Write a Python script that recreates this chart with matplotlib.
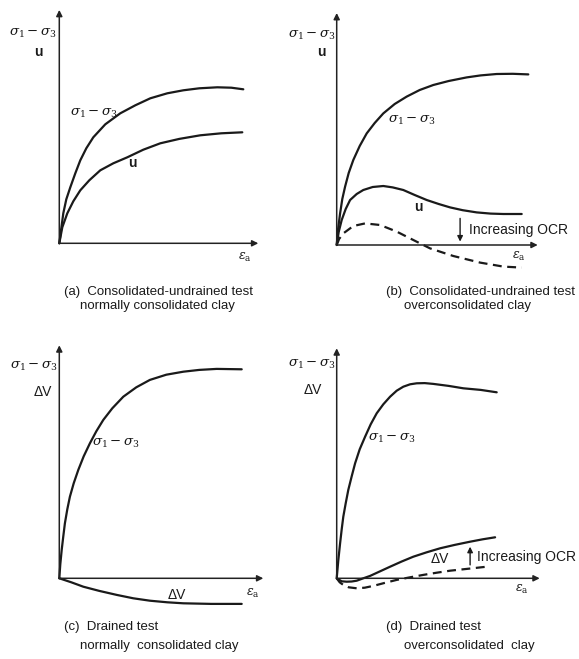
import matplotlib.pyplot as plt

plt.rcParams['font.family'] = ['Liberation Sans', 'DejaVu Sans']
plt.rcParams['mathtext.fontset'] = 'dejavuserif'

W, H = 579, 659

# (a) consolidated-undrained, normally consolidated
a_x_sig = [0, 0.08, 0.2, 0.35, 0.55, 0.8, 1.05, 1.35, 1.7, 2.3, 3.05, 3.8,
           4.55, 5.4, 6.2, 7.0, 7.9, 8.6, 9.2]
a_y_sig = [0, 0.6, 1.5, 2.2, 2.8, 3.5, 4.15, 4.75, 5.3, 5.95, 6.5, 6.9,
           7.25, 7.5, 7.65, 7.75, 7.8, 7.78, 7.7]
a_x_u = [0, 0.15, 0.4, 0.7, 1.05, 1.5, 2.05, 2.7, 3.4, 4.2, 5.05, 6.0,
         7.05, 8.1, 9.15]
a_y_u = [0, 0.8, 1.5, 2.1, 2.65, 3.15, 3.65, 4.0, 4.3, 4.68, 5.0, 5.22,
         5.4, 5.5, 5.55]

# (b) consolidated-undrained, overconsolidated
b_x_sig = [0, 0.07, 0.17, 0.28, 0.42, 0.6, 0.83, 1.15, 1.5, 1.9, 2.33, 2.9,
           3.5, 4.15, 4.83, 5.6, 6.5, 7.2, 8.0, 8.8, 9.58]
b_y_sig = [0, 0.8, 1.58, 2.3, 2.92, 3.6, 4.25, 4.95, 5.58, 6.1, 6.58, 7.05,
           7.42, 7.75, 8.0, 8.2, 8.38, 8.48, 8.55, 8.56, 8.53]
b_x_u = [0, 0.1, 0.25, 0.45, 0.67, 1.0, 1.33, 1.8, 2.33, 2.8, 3.33, 3.9,
         4.5, 5.1, 5.67, 6.3, 7.0, 7.7, 8.33, 9.25]
b_y_u = [0, 0.65, 1.25, 1.8, 2.25, 2.55, 2.75, 2.9, 2.95, 2.88, 2.75, 2.5,
         2.25, 2.05, 1.88, 1.74, 1.63, 1.57, 1.55, 1.55]
b_x_ocr = [0, 0.12, 0.33, 0.83, 1.42, 2.17, 3.0, 3.83, 4.67, 5.83, 7.17,
           8.33, 9.25]
b_y_ocr = [0, 0.3, 0.58, 0.95, 1.08, 1.0, 0.67, 0.25, -0.17, -0.55, -0.88,
           -1.08, -1.13]

# (c) drained, normally consolidated
c_x_sig = [0, 0.05, 0.12, 0.2, 0.28, 0.4, 0.53, 0.72, 0.95, 1.22, 1.53,
           1.85, 2.2, 2.65, 3.2, 3.85, 4.53, 5.35, 6.2, 7.0, 7.87, 9.12]
c_y_sig = [0, 0.7, 1.42, 2.1, 2.75, 3.45, 4.08, 4.75, 5.42, 6.1, 6.75,
           7.35, 7.92, 8.5, 9.08, 9.55, 9.92, 10.18, 10.33, 10.42, 10.47,
           10.45]
c_x_dv = [0, 0.6, 1.2, 2.0, 2.87, 3.7, 4.53, 5.4, 6.2, 7.6, 9.12]
c_y_dv = [0, -0.2, -0.42, -0.63, -0.83, -1.0, -1.12, -1.2, -1.25, -1.28,
          -1.28]

# (d) drained, overconsolidated
d_x_sig = [0, 0.08, 0.17, 0.25, 0.33, 0.45, 0.58, 0.75, 0.92, 1.15, 1.42,
           1.7, 2.0, 2.33, 2.67, 3.0, 3.33, 3.67, 4.0, 4.4, 4.83, 5.6, 6.33,
           7.2, 8.0]
d_y_sig = [0, 0.9, 1.75, 2.45, 3.08, 3.75, 4.42, 5.1, 5.75, 6.45, 7.08,
           7.7, 8.25, 8.7, 9.08, 9.38, 9.58, 9.7, 9.75, 9.76, 9.72, 9.62,
           9.5, 9.42, 9.3]
d_x_dv = [0, 0.25, 0.5, 0.75, 1.0, 1.33, 1.67, 2.17, 2.67, 3.25, 3.83, 4.5,
          5.17, 5.9, 6.67, 7.3, 7.92]
d_y_dv = [0, -0.15, -0.17, -0.16, -0.12, 0.0, 0.12, 0.35, 0.58, 0.84, 1.08,
          1.3, 1.5, 1.67, 1.83, 1.95, 2.05]
d_x_ocr = [0, 0.15, 0.33, 0.6, 1.0, 1.4, 1.83, 2.4, 3.0, 3.67, 4.33, 5.0,
           5.67, 6.6, 7.5]
d_y_ocr = [0, -0.2, -0.33, -0.45, -0.5, -0.47, -0.38, -0.23, -0.08, 0.05,
           0.17, 0.28, 0.38, 0.48, 0.58]

SIG = r'$\sigma_1 - \sigma_3$'
EPS = r'$\varepsilon_{\rm a}$'
INK = '#1a1a1a'

fig = plt.figure(figsize=(W / 100, H / 100), dpi=100)


def make_axes(ox, oy, xmax, ymax):
    # 1 data unit = 20 px, origin of the sketch at pixel (ox, oy)
    ax = fig.add_axes([(ox - 10) / W, (H - (oy + 40)) / H, 220 / W, 280 / H])
    ax.set_xlim(-0.5, 10.5)
    ax.set_ylim(-2, 12)
    ax.axis('off')
    arrow = dict(arrowstyle='-|>', color='#222222', lw=1.1,
                 mutation_scale=9, shrinkA=0, shrinkB=0)
    ax.annotate('', xy=(xmax, 0), xytext=(0, 0), arrowprops=arrow)
    ax.annotate('', xy=(0, ymax), xytext=(0, 0), arrowprops=arrow)
    return ax


def curve(ax, x, y, dashed=False):
    ax.plot(x, y, color=INK, lw=1.6, ls=(0, (4, 2.5)) if dashed else '-',
            solid_capstyle='round', solid_joinstyle='round', clip_on=False)


def ocr_arrow(ax, x, y0, y1):
    ax.annotate('', xy=(x, y1), xytext=(x, y0),
                arrowprops=dict(arrowstyle='-|>', color=INK, lw=1.0,
                                mutation_scale=8, shrinkA=0, shrinkB=0))


def caption(x, y, s):
    fig.text(x / W, 1 - y / H, s, fontsize=9.5, ha='left', va='center',
             color=INK)


kw = dict(color=INK, va='center')

# panel (a)
ax = make_axes(59.3, 243.3, 9.95, 11.67)
curve(ax, a_x_sig, a_y_sig)
curve(ax, a_x_u, a_y_u)
ax.text(-1.33, 10.5, SIG, fontsize=9.5, ha='center', **kw)
ax.text(-1.05, 9.55, 'u', fontsize=10, ha='center', fontweight='bold', **kw)
ax.text(9.3, -0.7, EPS, fontsize=9, ha='center', **kw)
ax.text(1.75, 6.5, SIG, fontsize=9.5, ha='center', **kw)
ax.text(3.63, 4.0, 'u', fontsize=10, ha='center', fontweight='bold', **kw)
caption(64, 292, '(a)  Consolidated-undrained test')
caption(80, 306, 'normally consolidated clay')

# panel (b)
ax = make_axes(336.7, 245, 10.05, 11.6)
curve(ax, b_x_sig, b_y_sig)
curve(ax, b_x_u, b_y_u)
curve(ax, b_x_ocr, b_y_ocr, dashed=True)
ax.text(-1.26, 10.5, SIG, fontsize=9.5, ha='center', **kw)
ax.text(-0.75, 9.67, 'u', fontsize=10, ha='center', fontweight='bold', **kw)
ax.text(9.1, -0.58, EPS, fontsize=9, ha='center', **kw)
ax.text(3.75, 6.25, SIG, fontsize=9.5, ha='center', **kw)
ax.text(4.08, 1.92, 'u', fontsize=10, ha='center', fontweight='bold', **kw)
ocr_arrow(ax, 6.17, 1.33, 0.17)
ax.text(6.6, 0.75, 'Increasing OCR', fontsize=10, ha='left', **kw)
caption(386, 292, '(b)  Consolidated-undrained test')
caption(404, 306, 'overconsolidated clay')

# panel (c)
ax = make_axes(59.3, 578.3, 10.2, 11.65)
curve(ax, c_x_sig, c_y_sig)
curve(ax, c_x_dv, c_y_dv)
ax.text(-1.29, 10.58, SIG, fontsize=9.5, ha='center', **kw)
ax.text(-0.8, 9.33, 'ΔV', fontsize=10, ha='center', **kw)
ax.text(9.68, -0.75, EPS, fontsize=9, ha='center', **kw)
ax.text(1.62, 6.75, SIG, fontsize=9.5, ha='left', **kw)
ax.text(5.87, -0.83, 'ΔV', fontsize=10, ha='center', **kw)
caption(64, 627, '(c)  Drained test')
caption(80, 646, 'normally  consolidated clay')

# panel (d)
ax = make_axes(336.7, 578.3, 10.15, 11.5)
curve(ax, d_x_sig, d_y_sig)
curve(ax, d_x_dv, d_y_dv)
curve(ax, d_x_ocr, d_y_ocr, dashed=True)
ax.text(-1.24, 10.67, SIG, fontsize=9.5, ha='center', **kw)
ax.text(-1.18, 9.4, 'ΔV', fontsize=10, ha='center', **kw)
ax.text(9.25, -0.58, EPS, fontsize=9, ha='center', **kw)
ax.text(1.58, 7.0, SIG, fontsize=9.5, ha='left', **kw)
ax.text(5.17, 0.95, 'ΔV', fontsize=10, ha='center', **kw)
ocr_arrow(ax, 6.67, 0.67, 1.58)
ax.text(7.0, 1.08, 'Increasing OCR', fontsize=10, ha='left', **kw)
caption(386, 627, '(d)  Drained test')
caption(404, 646, 'overconsolidated  clay')

fig.savefig('out.png', dpi=100)
